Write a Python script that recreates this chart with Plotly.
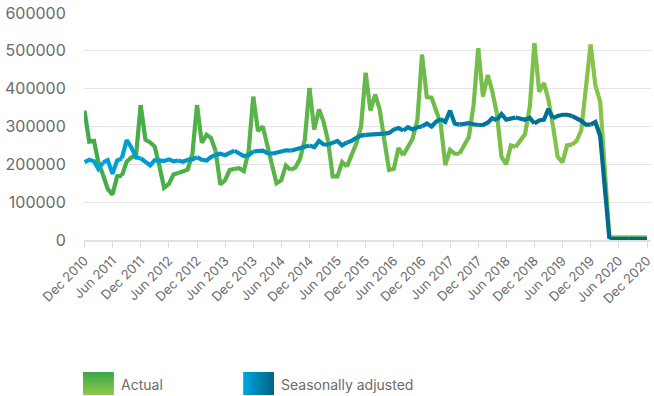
import pandas as pd
import plotly.graph_objects as go

# ---- data ----
months = pd.date_range("2010-12-01", periods=121, freq="MS")

actual = [
    342000,
    260000, 262000, 205000, 172000, 135000, 120000, 168000, 170000, 207000, 218000, 224000, 357000,
    265000, 258000, 247000, 195000, 138000, 148000, 173000, 177000, 181000, 186000, 228000, 357000,
    257000, 278000, 270000, 235000, 147000, 158000, 185000, 188000, 190000, 182000, 235000, 379000,
    288000, 300000, 255000, 200000, 150000, 158000, 197000, 185000, 192000, 215000, 265000, 402000,
    292000, 345000, 315000, 262000, 168000, 168000, 206000, 194000, 224000, 255000, 300000, 442000,
    342000, 384000, 345000, 262000, 185000, 188000, 243000, 224000, 245000, 268000, 317000, 490000,
    378000, 376000, 345000, 308000, 198000, 238000, 228000, 228000, 248000, 272000, 357000, 507000,
    379000, 436000, 395000, 335000, 220000, 200000, 250000, 246000, 262000, 280000, 352000, 520000,
    392000, 415000, 372000, 300000, 220000, 205000, 250000, 252000, 262000, 290000, 395000, 517000,
    408000, 366000, 200000, 7000, 7000, 7000, 7000, 7000, 7000, 7000, 7000, 7000,
]

seasonal = [
    206000,
    212000, 208000, 188000, 205000, 211000, 175000, 210000, 216000, 264000, 245000, 218000, 216000,
    208000, 197000, 211000, 210000, 209000, 213000, 208000, 210000, 207000, 212000, 213000, 219000,
    212000, 210000, 219000, 225000, 228000, 224000, 230000, 236000, 230000, 222000, 224000, 234000,
    235000, 236000, 230000, 228000, 230000, 234000, 237000, 236000, 239000, 243000, 245000, 250000,
    245000, 262000, 253000, 252000, 256000, 262000, 250000, 258000, 262000, 270000, 276000, 278000,
    279000, 280000, 280000, 281000, 283000, 292000, 296000, 289000, 298000, 292000, 298000, 300000,
    308000, 300000, 312000, 320000, 312000, 342000, 308000, 305000, 307000, 309000, 306000, 304000,
    304000, 310000, 322000, 317000, 333000, 318000, 320000, 324000, 320000, 318000, 323000, 308000,
    316000, 318000, 346000, 322000, 328000, 331000, 331000, 328000, 322000, 315000, 305000, 305000,
    312000, 275000, 140000, 3000, 3000, 3000, 3000, 3000, 3000, 3000, 3000, 3000,
]

series_names = ["Actual", "Seasonally adjusted"]
y_ticks = [0, 100000, 200000, 300000, 400000, 500000, 600000]

# ---- styling ----
FONT = "Inter, Liberation Sans, Arial, sans-serif"
GREEN_START, GREEN_END = (0x3F, 0xAB, 0x49), (0x8D, 0xC6, 0x4A)
BLUE_START, BLUE_END = (0x00, 0xA3, 0xD9), (0x00, 0x66, 0x86)


def mix(c1, c2, t):
    return "rgb({},{},{})".format(*[round(a + (b - a) * t) for a, b in zip(c1, c2)])


fig = go.Figure()
n = len(months)
step = 4


def add_gradient_line(values, c1, c2, name):
    for k in range(0, n - 1, step):
        end = min(k + step, n - 1)
        t = ((k + end) / 2) / (n - 1)
        fig.add_trace(go.Scatter(
            x=months[k:end + 1], y=values[k:end + 1], mode="lines",
            line=dict(color=mix(c1, c2, t), width=4.2, shape="linear"),
            name=name, showlegend=False, hoverinfo="x+y",
        ))


add_gradient_line(actual, GREEN_START, GREEN_END, series_names[0])
add_gradient_line(seasonal, BLUE_START, BLUE_END, series_names[1])

# ---- manual legend (gradient boxes) ----
L, PW, T, PH = 84, 570, 13, 227


def px_x(p):
    return (p - L) / PW


def px_y(p):
    return (T + PH - p) / PH


shapes = []
strips = 16
# Actual: vertical gradient (strips overlap slightly to avoid seams)
for s in range(strips):
    y0 = 372 + s * 23 / strips
    y1 = min(395, 372 + (s + 1) * 23 / strips + 1.0)
    shapes.append(dict(type="rect", xref="paper", yref="paper",
                       x0=px_x(83), x1=px_x(114), y0=px_y(y1), y1=px_y(y0),
                       fillcolor=mix((0x3C, 0xA8, 0x4A), (0x8E, 0xC8, 0x4B), s / (strips - 1)),
                       line=dict(width=0), layer="above"))
# Seasonally adjusted: horizontal gradient
for s in range(strips):
    x0 = 244 + s * 31 / strips
    x1 = min(275, 244 + (s + 1) * 31 / strips + 1.0)
    shapes.append(dict(type="rect", xref="paper", yref="paper",
                       x0=px_x(x0), x1=px_x(x1), y0=px_y(395), y1=px_y(372),
                       fillcolor=mix((0x00, 0xA5, 0xDC), (0x00, 0x66, 0x86), s / (strips - 1)),
                       line=dict(width=0), layer="above"))

annotations = [
    dict(text=series_names[0], xref="paper", yref="paper", x=px_x(119), y=px_y(384),
         xanchor="left", yanchor="middle", showarrow=False,
         font=dict(family=FONT, size=14, color="#6b6b6b")),
    dict(text=series_names[1], xref="paper", yref="paper", x=px_x(280), y=px_y(384),
         xanchor="left", yanchor="middle", showarrow=False,
         font=dict(family=FONT, size=14, color="#6b6b6b")),
]

fig.update_layout(
    width=654, height=396,
    margin=dict(l=L, r=654 - L - PW, t=T, b=396 - T - PH, pad=0),
    paper_bgcolor="white", plot_bgcolor="white",
    showlegend=False,
    shapes=shapes, annotations=annotations,
    font=dict(family=FONT, color="#6b6b6b"),
)

fig.update_xaxes(
    range=["2010-11-28", "2020-12-27"],
    tickmode="linear", tick0="2010-12-01", dtick="M6", tickformat="%b %Y",
    tickangle=-45, tickfont=dict(family=FONT, size=13, color="#6b6b6b"),
    ticklabeloverflow="allow",
    ticks="outside", ticklen=6, tickcolor="#dcdcdc", tickwidth=1,
    showgrid=False, showline=True, linecolor="#e2e2e2", linewidth=2,
    zeroline=False,
)

fig.update_yaxes(
    range=[0, 600000], tickvals=y_ticks, ticktext=[str(v) for v in y_ticks],
    tickfont=dict(family=FONT, size=16, color="#6b6b6b"),
    showgrid=True, gridcolor="#e4e4e4", gridwidth=1,
    zeroline=False, showline=False,
    ticks="outside", ticklen=14, tickcolor="rgba(0,0,0,0)",
)

fig.write_html("out.html")
